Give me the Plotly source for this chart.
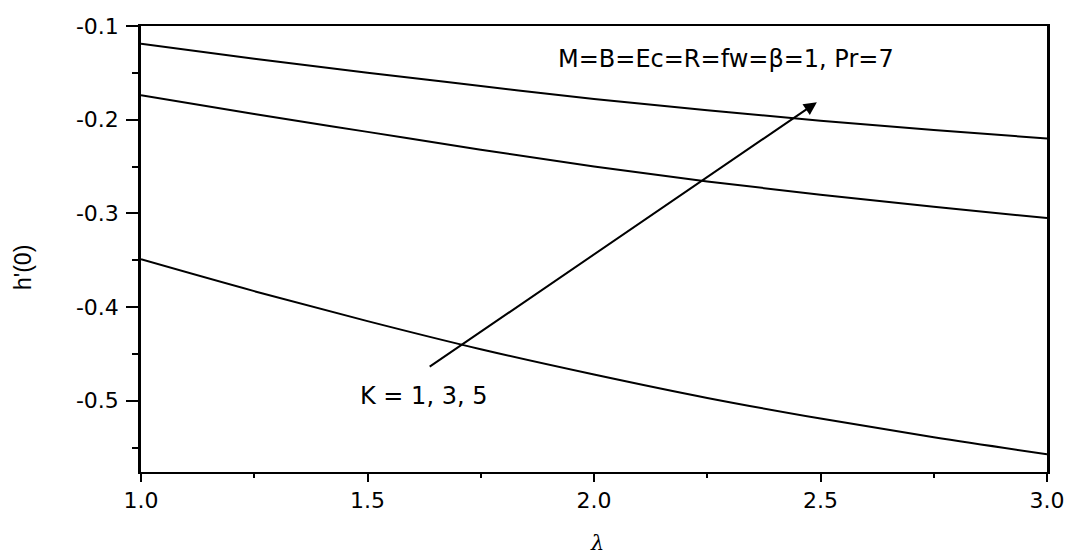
import plotly.graph_objects as go

lam = [1.0, 1.25, 1.5, 1.75, 2.0, 2.25, 2.5, 2.75, 3.0]
k1 = [-0.349, -0.383, -0.415, -0.445, -0.472, -0.497, -0.519, -0.539, -0.557]
k3 = [-0.174, -0.194, -0.213, -0.232, -0.250, -0.266, -0.280, -0.293, -0.305]
k5 = [-0.119, -0.135, -0.150, -0.164, -0.178, -0.190, -0.201, -0.211, -0.220]

x_ticks = [1.0, 1.5, 2.0, 2.5, 3.0]
y_ticks = [-0.1, -0.2, -0.3, -0.4, -0.5]
y_ticktext = ["-0.1", "-0.2", "-0.3", "-0.4", "-0.5"]

FONT = "DejaVu Sans, Liberation Sans, Arial, sans-serif"
OFF = 8  # default body margin of the html page

fig = go.Figure()
for ys in (k1, k3, k5):
    fig.add_trace(go.Scatter(x=lam, y=ys, mode="lines",
                             line=dict(color="black", width=2, shape="spline", smoothing=1.0),
                             showlegend=False, hoverinfo="skip"))

fig.update_layout(
    width=1075 - OFF, height=556 - OFF,
    margin=dict(l=141 - OFF, r=28, t=26 - OFF, b=84, autoexpand=False),
    paper_bgcolor="white", plot_bgcolor="white",
    font=dict(family=FONT, size=22, color="black"),
    showlegend=False,
)
fig.update_xaxes(
    range=[1.0, 3.0], tickvals=x_ticks, tickformat=".1f", automargin=False,
    showgrid=False, zeroline=False,
    showline=True, linecolor="black", linewidth=2, mirror=True,
    ticks="outside", ticklen=8, tickwidth=2, tickcolor="black",
    minor=dict(dtick=0.25, tick0=1.0, ticks="outside", ticklen=4, tickwidth=2, tickcolor="black", showgrid=False),
    tickfont=dict(family=FONT, size=22),
)
fig.update_yaxes(
    range=[-0.576, -0.1], tickvals=y_ticks, ticktext=y_ticktext, automargin=False,
    showgrid=False, zeroline=False,
    showline=True, linecolor="black", linewidth=2.5, mirror=True,
    ticks="outside", ticklen=12, tickwidth=2, tickcolor="black",
    minor=dict(dtick=0.05, tick0=-0.1, ticks="outside", ticklen=6, tickwidth=2, tickcolor="black", showgrid=False),
    tickfont=dict(family=FONT, size=22),
    ticklabelstandoff=3,
)

# arrow
fig.add_annotation(x=2.492, y=-0.1813, ax=1.634, ay=-0.4647, xref="x", yref="y", axref="x", ayref="y",
                   showarrow=True, arrowhead=2, arrowsize=1.3, arrowwidth=2, arrowcolor="black", text="")
fig.add_annotation(x=2.291, y=-0.1353, xref="x", yref="y", text="M=B=Ec=R=fw=β=1, Pr=7",
                   showarrow=False, font=dict(family=FONT, size=24), xanchor="center", yanchor="middle")
fig.add_annotation(x=1.623, y=-0.4947, xref="x", yref="y", text="K = 1, 3, 5",
                   showarrow=False, font=dict(family=FONT, size=24), xanchor="center", yanchor="middle")
# axis titles
plot_w = 1047 - 141
plot_h = 472 - 26
fig.add_annotation(x=(23 - 141) / plot_w, y=(472 - 268) / plot_h, xref="paper", yref="paper", text="h'(0)",
                   textangle=-90, showarrow=False, font=dict(family="Liberation Sans, Arial, sans-serif", size=23),
                   xanchor="center", yanchor="middle")
fig.add_annotation(x=2.007, y=(472 - 543) / plot_h, xref="x", yref="paper", text="<i>λ</i>",
                   showarrow=False, font=dict(family="DejaVu Serif, serif", size=21), xanchor="center", yanchor="middle")

fig.write_html("out.html")
